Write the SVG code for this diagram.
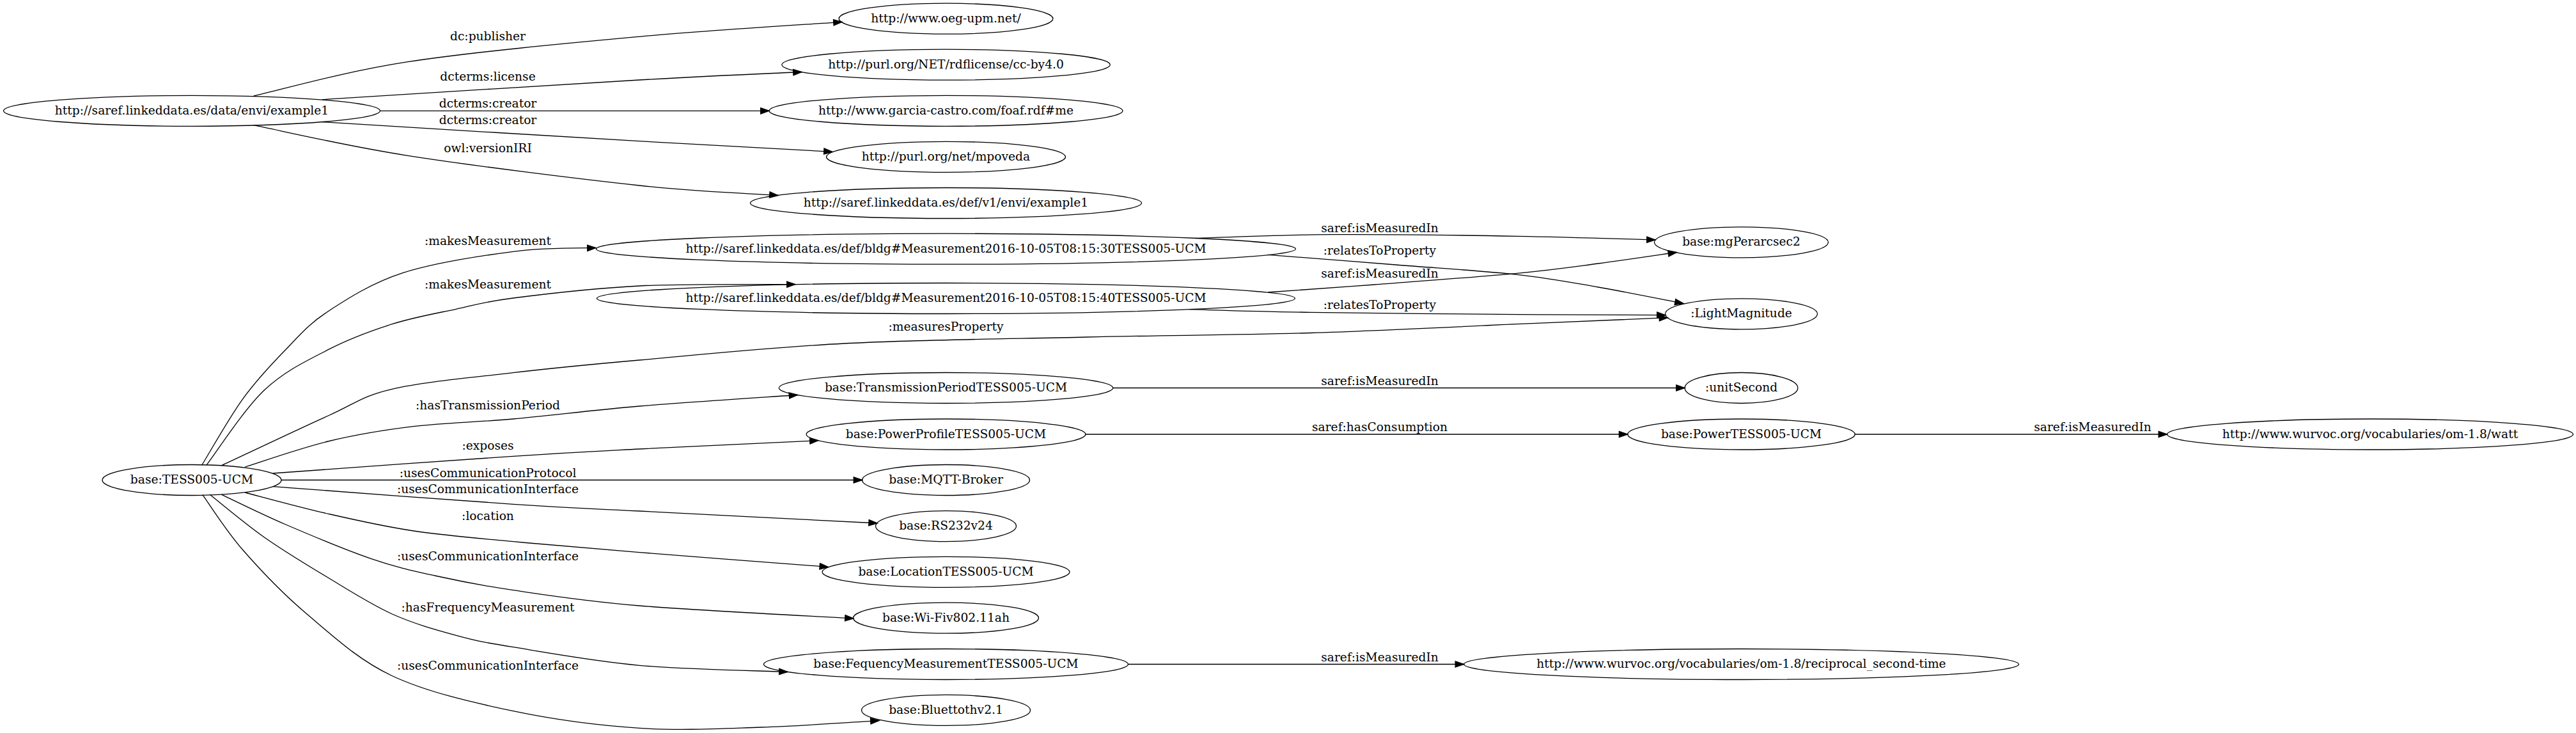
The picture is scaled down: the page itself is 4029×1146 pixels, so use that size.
<svg xmlns="http://www.w3.org/2000/svg" width="4029" height="1146" viewBox="0 0 4029 1146">
<style>
.node ellipse{fill:none;stroke:#000;stroke-width:1.3}
text{font-family:"DejaVu Serif",serif;font-size:18.67px;fill:#000;text-anchor:middle}
.edges path{fill:none;stroke:#000;stroke-width:1.3;marker-end:url(#ah)}
</style>
<defs>
<marker id="ah" viewBox="-1 -1 16 12" markerWidth="16" markerHeight="12" refX="13.3" refY="4.67" orient="auto" markerUnits="userSpaceOnUse">
<path d="M0,0 L13.3,4.67 L0,9.33 Z" fill="#000" stroke="#000" stroke-width="1.3"/>
</marker>
</defs>
<rect width="4029" height="1146" fill="#fff"/>

<g id="n_example1" class="node"><ellipse cx="300" cy="173.3" rx="294.5" ry="24"/><text x="300" y="178.8">http://saref.linkeddata.es/data/envi/example1</text></g>
<g id="n_oeg" class="node"><ellipse cx="1479.5" cy="29.2" rx="167.4" ry="24"/><text x="1479.5" y="34.7">http://www.oeg-upm.net/</text></g>
<g id="n_license" class="node"><ellipse cx="1479.5" cy="101.2" rx="256.7" ry="24"/><text x="1479.5" y="106.7">http://purl.org/NET/rdflicense/cc-by4.0</text></g>
<g id="n_garcia" class="node"><ellipse cx="1479.5" cy="173.3" rx="276.5" ry="24"/><text x="1479.5" y="178.8">http://www.garcia-castro.com/foaf.rdf#me</text></g>
<g id="n_mpoveda" class="node"><ellipse cx="1479.5" cy="245.3" rx="187" ry="24"/><text x="1479.5" y="250.8">http://purl.org/net/mpoveda</text></g>
<g id="n_v1example1" class="node"><ellipse cx="1479.5" cy="317.5" rx="306" ry="24"/><text x="1479.5" y="323">http://saref.linkeddata.es/def/v1/envi/example1</text></g>
<g id="n_m30" class="node"><ellipse cx="1479.5" cy="389.2" rx="547" ry="24"/><text x="1479.5" y="394.7">http://saref.linkeddata.es/def/bldg#Measurement2016-10-05T08:15:30TESS005-UCM</text></g>
<g id="n_m40" class="node"><ellipse cx="1479.5" cy="466.5" rx="546" ry="24"/><text x="1479.5" y="472">http://saref.linkeddata.es/def/bldg#Measurement2016-10-05T08:15:40TESS005-UCM</text></g>
<g id="n_tess" class="node"><ellipse cx="300" cy="750.5" rx="140" ry="24"/><text x="300" y="756">base:TESS005-UCM</text></g>
<g id="n_transmission" class="node"><ellipse cx="1479.5" cy="606.5" rx="261.2" ry="24"/><text x="1479.5" y="612">base:TransmissionPeriodTESS005-UCM</text></g>
<g id="n_powerprofile" class="node"><ellipse cx="1479.5" cy="679" rx="218.4" ry="24"/><text x="1479.5" y="684.5">base:PowerProfileTESS005-UCM</text></g>
<g id="n_mqtt" class="node"><ellipse cx="1479.5" cy="750.5" rx="131" ry="24"/><text x="1479.5" y="756">base:MQTT-Broker</text></g>
<g id="n_rs232" class="node"><ellipse cx="1479.5" cy="822.6" rx="110" ry="24"/><text x="1479.5" y="828.1">base:RS232v24</text></g>
<g id="n_location" class="node"><ellipse cx="1479.5" cy="894.3" rx="193.5" ry="24"/><text x="1479.5" y="899.8">base:LocationTESS005-UCM</text></g>
<g id="n_wifi" class="node"><ellipse cx="1479.5" cy="966.2" rx="145" ry="24"/><text x="1479.5" y="971.7">base:Wi-Fiv802.11ah</text></g>
<g id="n_freq" class="node"><ellipse cx="1479.5" cy="1038.5" rx="285" ry="24"/><text x="1479.5" y="1044">base:FequencyMeasurementTESS005-UCM</text></g>
<g id="n_bluetooth" class="node"><ellipse cx="1479.5" cy="1110.4" rx="132" ry="24"/><text x="1479.5" y="1115.9">base:Bluettothv2.1</text></g>
<g id="n_mgper" class="node"><ellipse cx="2723.5" cy="378.8" rx="136" ry="24"/><text x="2723.5" y="384.3">base:mgPerarcsec2</text></g>
<g id="n_light" class="node"><ellipse cx="2723.5" cy="490.8" rx="119" ry="24"/><text x="2723.5" y="496.3">:LightMagnitude</text></g>
<g id="n_unitsecond" class="node"><ellipse cx="2723.5" cy="606.5" rx="88.4" ry="24"/><text x="2723.5" y="612">:unitSecond</text></g>
<g id="n_power" class="node"><ellipse cx="2723.5" cy="679" rx="177.8" ry="24"/><text x="2723.5" y="684.5">base:PowerTESS005-UCM</text></g>
<g id="n_reciprocal" class="node"><ellipse cx="2723.5" cy="1038.5" rx="434" ry="24"/><text x="2723.5" y="1044">http://www.wurvoc.org/vocabularies/om-1.8/reciprocal_second-time</text></g>
<g id="n_watt" class="node"><ellipse cx="3707" cy="679" rx="317.5" ry="24"/><text x="3707" y="684.5">http://www.wurvoc.org/vocabularies/om-1.8/watt</text></g>

<g id="connectors" class="edges">
<g><path d="M396.7,150 C436.9,141.1 537.2,112.1 637.8,96.7 S886.8,67.7 1000,57.3 S1264.2,38.1 1317,34.3"/><text x="763" y="62.5">dc:publisher</text></g>
<g><path d="M503.8,155.7 C586.5,150.6 875,132.2 1000,125 S1211.7,114.6 1254,112.5"/><text x="763" y="126">dcterms:license</text></g>
<g><path d="M594.5,173.3 L1203,173.3"/><text x="763" y="168.3">dcterms:creator</text></g>
<g><path d="M503.8,190.7 C586.5,195.7 867,212.9 1000,220.7 S1251.7,234.5 1302,237.3"/><text x="763" y="194">dcterms:creator</text></g>
<g><path d="M396.7,195.7 C436.9,203.6 537.2,227.6 637.8,243.3 S903.5,279.6 1000,290 S1180.8,302.9 1217,305.5"/><text x="763" y="237.7">owl:versionIRI</text></g>

<g><path d="M316,726.7 C326.7,709.5 358.2,653.3 380,623.3 S424.5,569.5 446.7,546.7 S482.7,506.7 513.3,486.7 S581.8,442.3 630,426.7 S752.4,399.9 802.7,393.3 S910.4,388 932,387.5"/><text x="763" y="383">:makesMeasurement</text></g>
<g><path d="M323.3,726.7 C338.3,707.3 381.6,640 413.3,610 S480,563.9 513.3,546.7 S580,517.3 613.3,506.7 S681.7,490.1 713.3,483.3 S754.9,472.1 802.7,466 S926.4,450.6 1000,447 S1203.3,444.9 1244,444.6"/><text x="763" y="451">:makesMeasurement</text></g>
<g><path d="M346.7,727.7 C374.5,714.8 468.9,669.9 513.3,650 S565.1,619.5 613.3,608.3 S738.2,590.3 802.7,582.7 S913.6,570.6 1000,563 S1204.3,543 1321,537 S1578.5,529.8 1700,527 S1937.9,523.9 2050,520.5 S2280.2,510.7 2372.7,506.7 S2569.2,498.4 2608.5,496.7"/><text x="1479.5" y="517">:measuresProperty</text></g>
<g><path d="M383.3,730 C405,723.3 469.4,700.6 513.3,690 S598.5,672.5 646.7,666.7 S743.8,660.3 802.7,655 S925.8,641.3 1000,635 S1206.3,620.4 1247.6,617.5"/><text x="763" y="639.5">:hasTransmissionPeriod</text></g>
<g><path d="M426.7,740 C489.4,735.6 707.2,719.6 802.7,713.3 S920.5,706.1 1000,702 S1233.3,690.9 1280,688.7"/><text x="763" y="702.7">:exposes</text></g>
<g><path d="M440,750.5 L1348.5,750.5"/><text x="763" y="745.7">:usesCommunicationProtocol</text></g>
<g><path d="M426.7,760.7 C489.4,765.3 707.2,781.9 802.7,788.3 S905.1,794.1 1000,799 S1310.2,814.8 1372.2,818"/><text x="763" y="770.7">:usesCommunicationInterface</text></g>
<g><path d="M383.3,770 C405,775.6 469.4,793.3 513.3,803.3 S598.5,822.8 646.7,830 S743.8,841.1 802.7,846.7 S917.9,857 1000,863.6 S1246.2,882.6 1295.4,886.4"/><text x="763" y="813.3">:location</text></g>
<g><path d="M346.7,773.3 C363.4,781.1 407.8,803.3 446.7,820 S541.1,860 580,873.3 S642.9,891.8 680,900 S749.4,914.9 802.7,922.7 S911.3,939.6 1000,947 S1279.2,963.7 1335,967"/><text x="763" y="875.5">:usesCommunicationInterface</text></g>
<g><path d="M328.3,773.3 C342.5,784.4 382.5,818.3 413.3,840 S480,883.3 513.3,903.3 S580,945 613.3,960 S681.7,984.7 713.3,993.3 S754.9,1003.9 802.7,1011.7 S928.4,1033.8 1000,1040.3 S1193.3,1048.8 1232,1050.5"/><text x="763" y="956">:hasFrequencyMeasurement</text></g>
<g><path d="M316.7,773.3 C327.3,787.8 352.8,828.9 380,860 S441.2,927.3 480,960 S559.2,1031.2 613,1056.5 S738.2,1098.1 802.7,1111.7 S935.3,1134.2 1000,1138.4 S1128.5,1139 1191,1137 S1344.3,1128.3 1375,1126.6"/><text x="763" y="1047">:usesCommunicationInterface</text></g>

<g><path d="M1870,372.5 C1905.5,371.5 1999.2,367.2 2083,366.7 S2288.4,367.9 2372.7,369.3 S2553,374.1 2589,375"/><text x="2158" y="362.5">saref:isMeasuredIn</text></g>
<g><path d="M1983,398.3 C2016.3,400.9 2118,408.8 2183,414 S2319.9,423.5 2372.7,429.3 S2456.6,441.5 2500,449 S2610.8,470.3 2633,474.5"/><text x="2158" y="397.5">:relatesToProperty</text></g>
<g><path d="M1983,457 C2010.8,455 2085,450 2150,445 S2314.4,432.8 2372.7,427.3 S2458.4,417.5 2500,412 S2602.1,397.4 2622.5,394.5"/><text x="2158" y="434">saref:isMeasuredIn</text></g>
<g><path d="M1860,483.7 C1891.7,484.5 1964.5,487 2050,488.3 S2280.2,491 2372.7,491.7 S2566.3,492.5 2605,492.7"/><text x="2158" y="483">:relatesToProperty</text></g>
<g><path d="M1740.7,606.5 L2635.1,606.5"/><text x="2158" y="601.7">saref:isMeasuredIn</text></g>
<g><path d="M1697.9,679 L2545.7,679"/><text x="2158" y="674">saref:hasConsumption</text></g>
<g><path d="M1764.5,1038.5 L2289.5,1038.5"/><text x="2158" y="1033.5">saref:isMeasuredIn</text></g>
<g><path d="M2901.3,679 L3389.5,679"/><text x="3273" y="674">saref:isMeasuredIn</text></g>
</g>
</svg>
